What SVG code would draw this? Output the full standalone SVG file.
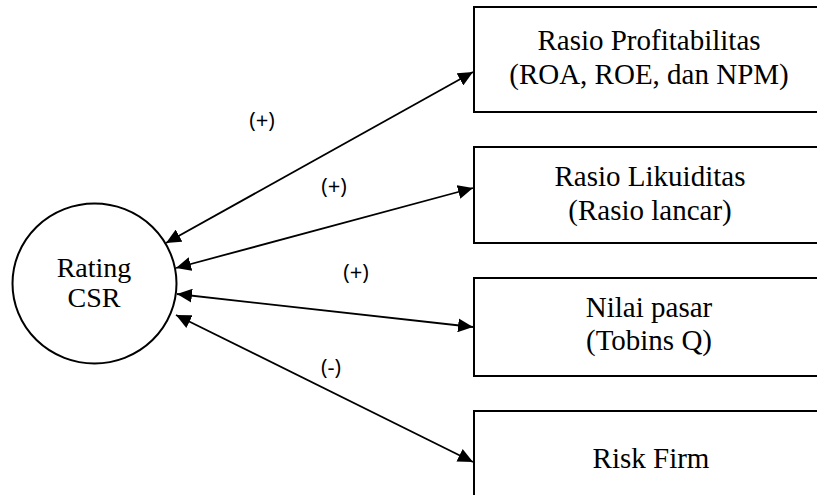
<svg xmlns="http://www.w3.org/2000/svg" width="817" height="495" viewBox="0 0 817 495">
<style>
.box{fill:#fff;stroke:#000;stroke-width:2}
.node-text{font-family:"Liberation Serif","Times New Roman",serif;font-size:29px;fill:#000;text-anchor:middle}
.circle-text{font-family:"Liberation Serif","Times New Roman",serif;font-size:28px;fill:#000;text-anchor:middle}
.lbl{font-family:"Open Sans","Liberation Sans",sans-serif;font-size:22px;fill:#000;text-anchor:middle}
.conn{stroke:#000;stroke-width:1.8;fill:none;marker-start:url(#ah);marker-end:url(#ah)}
</style>
<defs>
<marker id="ah" markerUnits="userSpaceOnUse" markerWidth="16" markerHeight="14" refX="15" refY="7" orient="auto-start-reverse" viewBox="0 0 16 14">
<path d="M0,0 L15,7 L0,14 Z" fill="#000"/>
</marker>
</defs>
<rect width="817" height="495" fill="#fff"/>
<g id="connectors">
<line class="conn" x1="166" y1="243" x2="473" y2="72"/>
<line class="conn" x1="176" y1="268" x2="473" y2="188"/>
<line class="conn" x1="177" y1="294" x2="473" y2="327"/>
<line class="conn" x1="176" y1="315" x2="473" y2="462"/>
<text class="lbl" x="262" y="128">(+)</text>
<text class="lbl" x="334" y="194">(+)</text>
<text class="lbl" x="356" y="280">(+)</text>
<text class="lbl" x="331" y="375">(-)</text>
</g>
<g id="rating-csr">
<ellipse cx="94.5" cy="283.5" rx="82" ry="80" fill="#fff" stroke="#000" stroke-width="2"/>
<text class="circle-text" x="94" y="277">Rating</text>
<text class="circle-text" x="94" y="307">CSR</text>
</g>
<g id="profitabilitas">
<rect class="box" x="474" y="7" width="360" height="105"/>
<text class="node-text" x="649" y="50">Rasio Profitabilitas</text>
<text class="node-text" x="649" y="84">(ROA, ROE, dan NPM)</text>
</g>
<g id="likuiditas">
<rect class="box" x="474" y="147" width="360" height="96"/>
<text class="node-text" x="650" y="186">Rasio Likuiditas</text>
<text class="node-text" x="650" y="220">(Rasio lancar)</text>
</g>
<g id="nilai-pasar">
<rect class="box" x="474" y="278" width="360" height="98"/>
<text class="node-text" x="649" y="317">Nilai pasar</text>
<text class="node-text" x="649" y="350">(Tobins Q)</text>
</g>
<g id="risk-firm">
<rect class="box" x="474" y="411" width="360" height="120"/>
<text class="node-text" x="651" y="468">Risk Firm</text>
</g>
</svg>
